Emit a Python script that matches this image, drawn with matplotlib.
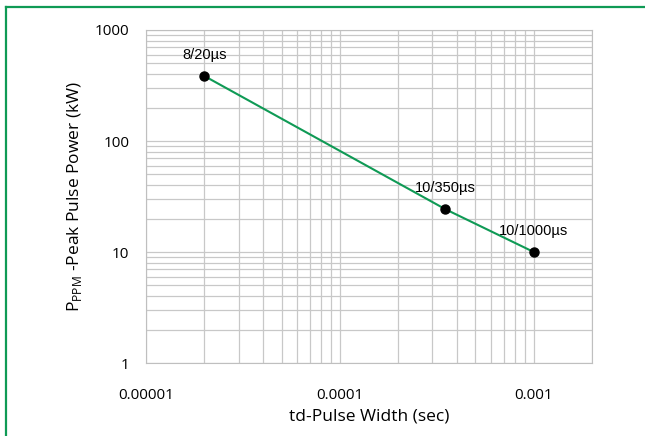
import numpy as np
import matplotlib.pyplot as plt
from matplotlib.lines import Line2D
from matplotlib.ticker import FixedLocator, NullFormatter, LogLocator

# pulse width (sec) and peak pulse power (kW)
pulse_width = [2e-5, 3.5e-4, 1e-3]
peak_power = [385, 24.3, 10]
point_labels = ['8/20µs', '10/350µs', '10/1000µs']

x_ticks = [1e-5, 1e-4, 1e-3]
x_tick_labels = ['0.00001', '0.0001', '0.001']
y_ticks = [1, 10, 100, 1000]
y_tick_labels = ['1', '10', '100', '1000']

green = '#0f9a55'
grid_col = '#c8c8c8'

fig = plt.figure(figsize=(6.45, 4.36), dpi=100)
ax = fig.add_axes([0.2264, 0.1674, 0.918 - 0.2264, 0.9312 - 0.1674])

ax.plot(pulse_width, peak_power, color=green, lw=1.5, zorder=3)
ax.plot(pulse_width, peak_power, 'o', color='black', ms=6.5, zorder=4)
for x, y, t in zip(pulse_width, peak_power, point_labels):
    ax.annotate(t, (x, y), xytext=(0, 10), textcoords='offset points',
                ha='center', va='bottom', fontsize=10.5, family='Liberation Sans')

ax.set_xscale('log')
ax.set_yscale('log')
ax.set_xlim(1e-5, 2e-3)
ax.set_ylim(1, 1000)

ax.xaxis.set_major_locator(FixedLocator(x_ticks))
ax.set_xticklabels(x_tick_labels)
ax.yaxis.set_major_locator(FixedLocator(y_ticks))
ax.set_yticklabels(y_tick_labels)
ax.xaxis.set_minor_locator(LogLocator(base=10, subs=np.arange(2, 10)))
ax.yaxis.set_minor_locator(LogLocator(base=10, subs=np.arange(2, 10)))
ax.xaxis.set_minor_formatter(NullFormatter())
ax.yaxis.set_minor_formatter(NullFormatter())

ax.grid(which='both', color=grid_col, lw=0.9)
ax.set_axisbelow(True)
for s in ax.spines.values():
    s.set_color('#bfbfbf')
ax.tick_params(which='both', length=0)
ax.tick_params(axis='x', pad=18, labelsize=11)
ax.tick_params(axis='y', pad=12, labelsize=11)
for lab in ax.get_xticklabels() + ax.get_yticklabels():
    lab.set_family('Open Sans')

ax.set_xlabel('td-Pulse Width (sec)', fontsize=12.5, family='Open Sans', labelpad=4)
ax.set_ylabel(r'P$_{\mathregular{PPM}}$ -Peak Pulse Power (kW)', fontsize=12.5,
              family='Open Sans', labelpad=8)

# green frame, only left and top edges visible
fig.add_artist(Line2D([6 / 645, 6 / 645], [0, 1 - 7 / 436], color=green, lw=1.6))
fig.add_artist(Line2D([6 / 645, 1], [1 - 7 / 436, 1 - 7 / 436], color=green, lw=1.6))

fig.savefig('out.png', dpi=100)
